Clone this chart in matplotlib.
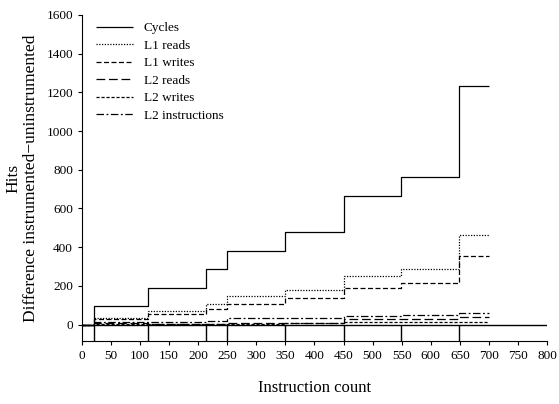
import matplotlib
matplotlib.use('Agg')
import matplotlib.pyplot as plt

# instruction counts where the measurements change, plus the last one
counts = [20, 114, 213, 250, 350, 450, 549, 648]
last_count = 700

cycles = [95, 190, 286, 381, 476, 665, 760, 1235]
l1_reads = [35, 68, 108, 147, 181, 251, 285, 464]
l1_writes = [27, 53, 80, 106, 136, 190, 217, 353]
l2_reads = [6, 4, 5, 7, 9, 26, 27, 38]
l2_writes = [3, 1, 2, 5, 6, 12, 11, 13]
l2_instr = [14, 13, 20, 34, 34, 46, 48, 60]

series = [
    ('Cycles', cycles, (0, ())),
    ('L1 reads', l1_reads, (0, (1, 1.2))),
    ('L1 writes', l1_writes, (0, (4, 2))),
    ('L2 reads', l2_reads, (0, (7, 3))),
    ('L2 writes', l2_writes, (0, (2.5, 1.5))),
    ('L2 instructions', l2_instr, (0, (6, 2, 1.5, 2))),
]

plt.rcParams['font.family'] = ['Liberation Serif', 'DejaVu Serif']

fig = plt.figure(figsize=(5.59, 4.04), dpi=100)
ax = fig.add_axes([0.1467, 0.156, 0.8318, 0.807])

ybottom = -85
xs = [0] + counts + [last_count]
for label, vals, ls in series:
    ys = [0] + vals + [vals[-1]]
    ax.step(xs, ys, where='post', color='black', linewidth=0.9,
            linestyle=ls, label=label)

ax.axhline(0, color='black', linewidth=1.0)
ax.vlines(counts, ybottom, 0, color='black', linewidth=1.0)

ax.set_xlim(0, 800)
ax.set_ylim(ybottom, 1600)
ax.set_xticks(range(0, 801, 50))
ax.set_yticks(range(0, 1601, 200))
ax.spines['top'].set_visible(False)
ax.spines['right'].set_visible(False)
ax.tick_params(labelsize=9.5, length=3, width=0.8)

ax.set_xlabel('Instruction count', fontsize=12, labelpad=13)
ax.set_ylabel('Hits\nDifference instrumented\u2212uninstrumented',
              fontsize=12.5, labelpad=5)

ax.legend(loc='upper left', frameon=False, fontsize=9.5, handlelength=2.8,
          labelspacing=0.4, bbox_to_anchor=(0.005, 1.015))

fig.savefig('out.png')
